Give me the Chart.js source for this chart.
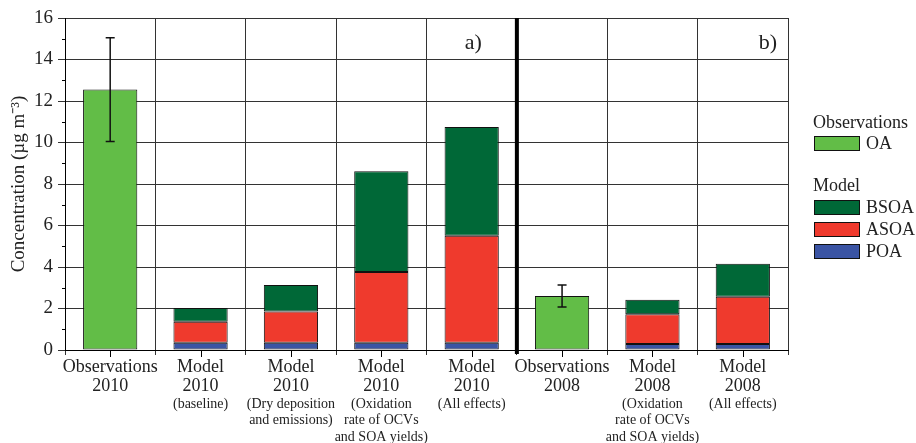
<!DOCTYPE html>
<html>
<head>
<meta charset="utf-8">
<script src="https://cdn.jsdelivr.net/npm/chart.js@4"></script>
<style>
  body { margin: 0; background: #fff; }
  #wrap { position: relative; width: 916px; height: 443px; }
  .lg { position: absolute; font-family: "Liberation Serif", serif; font-size: 18px; color: #222; line-height: 1; }
  .sw { position: absolute; width: 44px; height: 13px; border: 1px solid #111; }
</style>
</head>
<body>
<div id="wrap">
  <canvas id="chart"></canvas>
  <div class="lg" style="left:813px; top:113px;">Observations</div>
  <div class="sw" style="left:814px; top:136px; background:#62bd47;"></div>
  <div class="lg" style="left:866px; top:134px;">OA</div>
  <div class="lg" style="left:813px; top:176px;">Model</div>
  <div class="sw" style="left:814px; top:200px; background:#006837;"></div>
  <div class="lg" style="left:866px; top:198px;">BSOA</div>
  <div class="sw" style="left:814px; top:222px; background:#ef3a2d;"></div>
  <div class="lg" style="left:866px; top:220px;">ASOA</div>
  <div class="sw" style="left:814px; top:244px; background:#3a54a4;"></div>
  <div class="lg" style="left:866px; top:242px;">POA</div>
</div>
<script>
// categories (main line, year, small note lines)
const catMain = ['Observations', 'Model', 'Model', 'Model', 'Model', 'Observations', 'Model', 'Model'];
const catYear = ['2010', '2010', '2010', '2010', '2010', '2008', '2008', '2008'];
const catNote = [
  [],
  ['(baseline)'],
  ['(Dry deposition', 'and emissions)'],
  ['(Oxidation', 'rate of OCVs', 'and SOA yields)'],
  ['(All effects)'],
  [],
  ['(Oxidation', 'rate of OCVs', 'and SOA yields)'],
  ['(All effects)']
];

// values (µg m-3)
const obsOA  = [12.55, null, null, null, null, 2.6, null, null];
const obsErr = [2.5, null, null, null, null, 0.53, null, null];
const poa    = [null, 0.35, 0.35, 0.35, 0.35, null, 0.29, 0.29];
const asoa   = [null, 1.01, 1.50, 3.41, 5.16, null, 1.43, 2.28];
const bsoa   = [null, 0.66, 1.28, 4.85, 5.24, null, 0.70, 1.59];

const yTicks = [0, 2, 4, 6, 8, 10, 12, 14, 16];

const serif = '"Liberation Serif", "Times New Roman", serif';

// extra drawing: error bars, separator, x labels, panel letters, minor ticks
const extras = {
  id: 'extras',
  afterDatasetsDraw(chart) {
    const { ctx, scales: { x, y }, chartArea } = chart;
    ctx.save();
    // error bars
    ctx.strokeStyle = '#111';
    ctx.lineWidth = 1.5;
    obsOA.forEach((v, i) => {
      if (v == null) return;
      const px = x.getPixelForValue(i);
      const hi = y.getPixelForValue(v + obsErr[i]);
      const lo = y.getPixelForValue(v - obsErr[i]);
      ctx.beginPath();
      ctx.moveTo(px, hi); ctx.lineTo(px, lo);
      ctx.moveTo(px - 4.5, hi); ctx.lineTo(px + 4.5, hi);
      ctx.moveTo(px - 4.5, lo); ctx.lineTo(px + 4.5, lo);
      ctx.stroke();
    });
    // thick separator between 2010 and 2008
    const sx = (x.getPixelForValue(4) + x.getPixelForValue(5)) / 2;
    ctx.lineWidth = 4;
    ctx.strokeStyle = '#000';
    ctx.beginPath();
    ctx.moveTo(sx, chartArea.top);
    ctx.lineTo(sx, chartArea.bottom + 4);
    ctx.stroke();
    // ticks at category centers
    ctx.lineWidth = 1;
    ctx.beginPath();
    catMain.forEach((c, i) => {
      const px = Math.round(x.getPixelForValue(i)) + 0.5;
      ctx.moveTo(px, chartArea.bottom);
      ctx.lineTo(px, chartArea.bottom + 7);
    });
    // minor y ticks
    for (let v = 1; v < 16; v += 2) {
      const py = Math.round(y.getPixelForValue(v)) + 0.5;
      ctx.moveTo(chartArea.left - 3, py);
      ctx.lineTo(chartArea.left, py);
    }
    ctx.stroke();
    // x labels
    ctx.fillStyle = '#222';
    ctx.textAlign = 'center';
    ctx.textBaseline = 'middle';
    catMain.forEach((c, i) => {
      const px = x.getPixelForValue(i);
      ctx.font = '18px ' + serif;
      ctx.fillText(c, px, 367);
      ctx.fillText(catYear[i], px, 386);
      ctx.font = '14px ' + serif;
      catNote[i].forEach((t, j) => ctx.fillText(t, px, 404 + j * 16.5));
    });
    // panel letters
    ctx.font = '22px ' + serif;
    ctx.textAlign = 'right';
    ctx.fillText('a)', sx - 35, 43);
    ctx.fillText('b)', chartArea.right - 11, 43);
    ctx.restore();
  }
};

new Chart(document.getElementById('chart'), {
  type: 'bar',
  data: {
    labels: catMain,
    datasets: [
      { label: 'OA', data: obsOA, backgroundColor: '#62bd47' },
      { label: 'POA', data: poa, backgroundColor: '#3a54a4' },
      { label: 'ASOA', data: asoa, backgroundColor: '#ef3a2d' },
      { label: 'BSOA', data: bsoa, backgroundColor: '#006837' }
    ]
  },
  options: {
    responsive: true,
    maintainAspectRatio: false,
    animation: false,
    layout: { padding: { top: 18, right: 128, left: 8, bottom: 0 } },
    datasets: {
      bar: { barPercentage: 0.6, categoryPercentage: 1, borderColor: '#111', borderWidth: 1, borderSkipped: false }
    },
    plugins: { legend: { display: false }, tooltip: { enabled: false } },
    scales: {
      x: {
        stacked: true,
        afterFit: s => { s.height = 93; },
        ticks: { callback: () => '' },
        grid: { color: '#333', lineWidth: 1, tickLength: 5, offset: true },
        border: { color: '#000', width: 1 }
      },
      y: {
        stacked: true,
        min: 0,
        max: 16,
        afterFit: s => { s.width = 57; },
        afterBuildTicks: s => { s.ticks = yTicks.map(v => ({ value: v })); },
        ticks: { font: { family: serif, size: 19 }, color: '#222', padding: 5 },
        grid: { color: '#333', lineWidth: 1, tickLength: 7 },
        border: { color: '#000', width: 1 },
        title: {
          display: true,
          text: 'Concentration (µg m⁻³)',
          font: { family: serif, size: 19 },
          color: '#222',
          padding: { top: 0, bottom: 2 }
        }
      }
    }
  },
  plugins: [extras]
});
</script>
</body>
</html>
